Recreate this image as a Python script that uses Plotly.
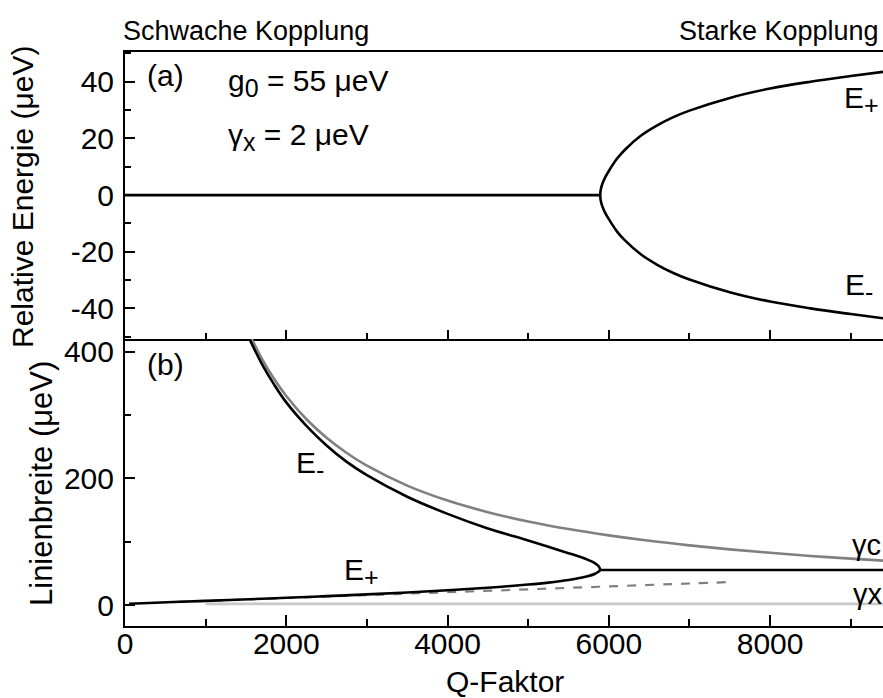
import plotly.graph_objects as go
from plotly.subplots import make_subplots

# ---------------- data ----------------
# Panel (a): relative energy (µeV) vs Q-factor
q_flat_a = [0, 5893]
e_flat_a = [0, 0]
q_split = [5893, 5900, 5920, 5950, 6000, 6100, 6200, 6400, 6600, 6800, 7000, 7500, 8000, 8500, 9000, 9400]
e_plus = [0, 2.0, 4.0, 6.0, 8.5, 12.8, 16.0, 21.0, 24.6, 27.5, 29.8, 34.3, 37.6, 40.0, 42.0, 43.5]
e_minus = [-v for v in e_plus]

# Panel (b): linewidth (µeV) vs Q-factor
q_em = [1540, 1700, 1850, 2000, 2250, 2500, 2750, 3000, 3500, 4000, 4500, 5000, 5250, 5500, 5650, 5750, 5830, 5870, 5885, 5893]
w_em = [421, 380, 348, 320, 283, 252, 226, 205, 171, 144, 121, 102, 92, 82, 76, 71, 66, 62, 59, 56]
q_ep = [50, 300, 600, 1000, 1540, 2000, 2500, 3000, 3500, 4000, 4500, 5000, 5250, 5500, 5650, 5750, 5830, 5870, 5885, 5893]
w_ep = [2.2, 3.4, 4.8, 6.6, 9.2, 11.5, 14.1, 16.9, 19.9, 23.4, 27.4, 32.4, 35.5, 39.6, 43.0, 45.9, 49.5, 52.5, 54.3, 56]
q_strong = [5893, 9400]
w_strong = [55.5, 55.5]
q_gc = [1540, 1700, 1850, 2000, 2250, 2500, 2750, 3000, 3500, 4000, 4500, 5000, 5500, 6000, 6500, 7000, 7500, 8000, 8500, 9000, 9400]
w_gc = [428.6, 388.2, 356.8, 330, 293.3, 264, 240, 220, 188.6, 165, 146.7, 132, 120, 110, 101.5, 94.3, 88, 82.5, 77.6, 73.3, 70.2]
q_gx = [1000, 9400]
w_gx = [2, 2]
q_weak = [650, 1000, 2000, 3000, 4000, 5000, 6000, 7000, 7450]
w_weak = [5.0, 6.6, 11.2, 15.8, 20.3, 24.9, 29.5, 34.1, 36.1]

x_ticks = [0, 2000, 4000, 6000, 8000]
x_labels = ["0", "2000", "4000", "6000", "8000"]
ya_ticks = [-40, -20, 0, 20, 40]
ya_labels = ["-40", "-20", "0", "20", "40"]
yb_ticks = [0, 200, 400]
yb_labels = ["0", "200", "400"]

FONT = "Liberation Sans, Arial, sans-serif"
FS = 30
BLACK = "#000000"
GRAY = "#808080"
LGRAY = "#c8c8c8"

fig = make_subplots(rows=2, cols=1)

def add(x, y, color, row, width=2.6, dash=None, shape="spline"):
    fig.add_trace(go.Scatter(x=x, y=y, mode="lines", line=dict(color=color, width=width, dash=dash, shape=shape),
                             showlegend=False, hoverinfo="skip"), row=row, col=1)

# panel a
add(q_flat_a, e_flat_a, BLACK, 1, shape="linear")
add(q_split, e_plus, BLACK, 1)
add(q_split, e_minus, BLACK, 1)
# panel b
add(q_gx, w_gx, LGRAY, 2, shape="linear")
add(q_weak, w_weak, GRAY, 2, width=2.2, dash="dash")
add(q_gc, w_gc, GRAY, 2)
add(q_em, w_em, BLACK, 2)
add(q_ep, w_ep, BLACK, 2)
add(q_strong, w_strong, BLACK, 2, shape="linear")

axis_common = dict(showgrid=False, zeroline=False, showline=True, linecolor=BLACK, linewidth=2,
                   ticks="inside", tickcolor=BLACK, tickwidth=2,
                   tickfont=dict(family=FONT, size=FS, color=BLACK))

fig.update_layout(
    width=883, height=698,
    margin=dict(l=125, r=0, t=52, b=72),
    paper_bgcolor="white", plot_bgcolor="white",
    font=dict(family=FONT, size=FS, color=BLACK),
    xaxis=dict(axis_common, domain=[0, 1], range=[0, 9400], anchor="y", tickvals=x_ticks, ticklen=9,
               showticklabels=False, mirror=True,
               minor=dict(ticks="inside", dtick=1000, tick0=0, ticklen=6, tickwidth=2, tickcolor=BLACK)),
    yaxis=dict(axis_common, domain=[0.5, 1], range=[-50.8, 50.5], anchor="x", tickvals=ya_ticks,
               ticktext=ya_labels, ticklen=10, ticklabelstandoff=3,
               minor=dict(ticks="inside", dtick=10, tick0=0, ticklen=6, tickwidth=2, tickcolor=BLACK)),
    xaxis2=dict(axis_common, domain=[0, 1], range=[0, 9400], anchor="y2", tickvals=x_ticks, ticktext=x_labels,
                ticklen=11, ticklabelstandoff=-10,
                minor=dict(ticks="inside", dtick=1000, tick0=0, ticklen=7, tickwidth=2, tickcolor=BLACK)),
    yaxis2=dict(axis_common, domain=[0, 0.5], range=[-33, 420], anchor="x2", tickvals=yb_ticks,
                ticktext=yb_labels, ticklen=10, ticklabelstandoff=3,
                minor=dict(ticks="inside", dtick=100, tick0=0, ticklen=6, tickwidth=2, tickcolor=BLACK)),
)

def ann(text, x, y, xref, yref, xanchor="center", yanchor="middle", angle=0, size=FS):
    fig.add_annotation(text=text, x=x, y=y, xref=xref, yref=yref, xanchor=xanchor, yanchor=yanchor,
                       showarrow=False, textangle=angle, font=dict(family=FONT, size=size, color=BLACK))

# paper-coordinate helpers (plot area: x 125..883, y 52..626)
def px(xp):
    return (xp - 125) / 758.0
def py(yp):
    return (626 - yp) / 574.0

SUB = "<sub><span style='font-size:25px'>%s</span></sub>"

ann("Schwache Kopplung", px(121), py(31), "paper", "paper", xanchor="left", size=27)
ann("Starke Kopplung", px(881), py(31), "paper", "paper", xanchor="right", size=27)
ann("Relative Energie (μeV)", px(22), py(197), "paper", "paper", angle=-90)
ann("Linienbreite (μeV)", px(41), py(484), "paper", "paper", angle=-90, size=31)
ann("Q-Faktor", px(505), py(700), "paper", "paper", yanchor="bottom")

# panel a labels
ann("(a)", 250, 42.3, "x", "y", xanchor="left")
ann("g" + SUB % "0" + " = 55 μeV", 1250, 39.5, "x", "y", xanchor="left")
ann("γ" + SUB % "x" + " = 2 μeV", 1250, 20.5, "x", "y", xanchor="left")
ann("E" + SUB % "+", 9130, 33.5, "x", "y")
ann("E" + SUB % "-", 9100, -32.5, "x", "y")
# panel b labels
ann("(b)", 250, 379, "x2", "y2", xanchor="left")
ann("E" + SUB % "-", 2300, 221, "x2", "y2")
ann("E" + SUB % "+", 2930, 52, "x2", "y2")
ann("γc", 9190, 95, "x2", "y2", size=29)
ann("γx", 9210, 17, "x2", "y2", size=29)

fig.write_html("out.html")
